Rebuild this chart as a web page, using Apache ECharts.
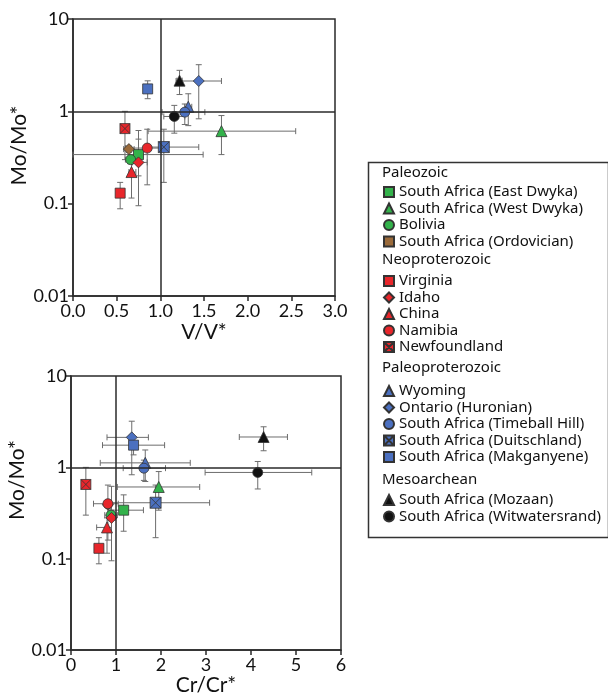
<!DOCTYPE html>
<html>
<head>
<meta charset="utf-8">
<script src="https://cdn.jsdelivr.net/npm/echarts@6/dist/echarts.min.js"></script>
<style>
html,body{margin:0;padding:0;background:#fff;}
#chart{width:608px;height:697px;}
</style>
</head>
<body>
<div id="chart"></div>
<script>
// ---------- data ----------
const categories = [
  'South Africa (East Dwyka)', 'South Africa (West Dwyka)', 'Bolivia', 'South Africa (Ordovician)',
  'Virginia', 'Idaho', 'China', 'Namibia', 'Newfoundland',
  'Wyoming', 'Ontario (Huronian)', 'South Africa (Timeball Hill)', 'South Africa (Duitschland)', 'South Africa (Makganyene)',
  'South Africa (Mozaan)', 'South Africa (Witwatersrand)'
];
const groupTitles = ['Paleozoic', 'Neoproterozoic', 'Paleoproterozoic', 'Mesoarchean'];
const groupMembers = [[0,1,2,3],[4,5,6,7,8],[9,10,11,12,13],[14,15]];

// Mo/Mo* (shared by both panels)
const moVal = [0.34, 0.61, 0.30, 0.39, 0.13, 0.28, 0.22, 0.40, 0.65, 1.12, 2.13, 0.98, 0.41, 1.75, 2.15, 0.88];
const moLo  = [0.20, 0.34, 0.27, 0.36, 0.088, 0.095, 0.115, 0.16, 0.30, 0.70, 0.83, 0.72, 0.17, 1.37, 1.52, 0.58];
const moHi  = [0.50, 0.90, 0.34, 0.42, 0.17, 0.62, 0.28, 0.64, 1.00, 1.55, 3.20, 1.20, 0.64, 2.14, 2.78, 1.16];

// V/V* (upper panel)
const vVal = [0.75, 1.70, 0.66, 0.64, 0.54, 0.75, 0.67, 0.85, 0.595, 1.32, 1.44, 1.28, 1.04, 0.855, 1.22, 1.16];
const vLo  = [0.00, 0.86, 0.60, 0.58, 0.50, 0.68, 0.64, 0.60, 0.57, 1.28, 1.18, 1.02, 0.88, 0.81, 1.19, 1.04];
const vHi  = [1.49, 2.55, 0.72, 0.70, 0.58, 0.85, 0.72, 1.00, 0.62, 1.36, 1.70, 1.51, 1.44, 0.90, 1.25, 1.28];

// Cr/Cr* (lower panel)
const crVal = [1.17, 1.95, 0.89, 0.82, 0.62, 0.90, 0.80, 0.82, 0.33, 1.65, 1.35, 1.62, 1.88, 1.39, 4.28, 4.15];
const crLo  = [0.87, 1.03, 0.75, 0.75, 0.55, 0.82, 0.57, 0.50, 0.30, 0.65, 0.80, 1.16, 0.79, 0.70, 3.74, 2.98];
const crHi  = [1.61, 2.86, 1.03, 0.90, 0.70, 0.98, 0.90, 1.05, 0.36, 2.65, 1.72, 2.10, 3.08, 2.08, 4.81, 5.35];

const xTickLabelsTop = ['0.0', '0.5', '1.0', '1.5', '2.0', '2.5', '3.0'];
const xTickLabelsBottom = ['0', '1', '2', '3', '4', '5', '6'];
const yTickLabels = ['0.01', '0.1', '1', '10'];

// ---------- styles ----------
const GREEN = '#33b24b', RED = '#e8262b', BROWN = '#9a6a3a', BLUE = '#4b70c0', BLACK = '#111';
const XSQ = 'path://M0,0L10,0L10,10L0,10Z M0,0L10,10 M10,0L0,10';
const colors = [GREEN, GREEN, GREEN, BROWN, RED, RED, RED, RED, RED, BLUE, BLUE, BLUE, BLUE, BLUE, BLACK, BLACK];
const symbols = ['rect','triangle','circle','diamond','rect','diamond','triangle','circle', XSQ,
                 'triangle','diamond','circle', XSQ,'rect','triangle','circle'];
const symSizes = [10, 11, 10, 11, 10, 11, 11, 10, 10, 11, 11, 10, 11, 10, 11, 10];
const legendIcons = ['rect','triangle','circle','rect','rect','diamond','triangle','circle', XSQ,
                     'triangle','diamond','circle', XSQ,'rect','triangle','circle'];
const FONT = 'Lato, "Noto Sans", sans-serif';
const LFONT = '"Noto Sans", sans-serif';
const AXC = '#2a2a2a';

function errItem(params, api) {
  const x = api.value(0), y = api.value(1);
  const c = api.coord([x, y]);
  const pl = api.coord([api.value(2), y]);
  const ph = api.coord([api.value(3), y]);
  const pb = api.coord([x, api.value(4)]);
  const pt = api.coord([x, api.value(5)]);
  const cap = 3;
  const st = { stroke: '#6d6d6d', lineWidth: 1 };
  return { type: 'group', children: [
    { type: 'line', shape: { x1: pl[0], y1: c[1], x2: ph[0], y2: c[1] }, style: st },
    { type: 'line', shape: { x1: pl[0], y1: c[1] - cap, x2: pl[0], y2: c[1] + cap }, style: st },
    { type: 'line', shape: { x1: ph[0], y1: c[1] - cap, x2: ph[0], y2: c[1] + cap }, style: st },
    { type: 'line', shape: { x1: c[0], y1: pb[1], x2: c[0], y2: pt[1] }, style: st },
    { type: 'line', shape: { x1: c[0] - cap, y1: pb[1], x2: c[0] + cap, y2: pb[1] }, style: st },
    { type: 'line', shape: { x1: c[0] - cap, y1: pt[1], x2: c[0] + cap, y2: pt[1] }, style: st }
  ]};
}

const series = [];
[[vVal, vLo, vHi], [crVal, crLo, crHi]].forEach(([xs, xl, xh], g) => {
  series.push({
    type: 'scatter', xAxisIndex: g, yAxisIndex: g, data: [], z: 1, silent: true,
    markLine: { silent: true, symbol: 'none', animation: false, label: { show: false },
      lineStyle: { color: AXC, width: 1.5, type: 'solid' },
      data: [{ xAxis: 1 }, { yAxis: 1 }] }
  });
  series.push({
    type: 'custom', xAxisIndex: g, yAxisIndex: g, z: 2, silent: true,
    renderItem: errItem, encode: { x: 0, y: 1 },
    data: categories.map((_, i) => [xs[i], moVal[i], xl[i], xh[i], moLo[i], moHi[i]])
  });
  categories.forEach((name, i) => {
    series.push({
      name, type: 'scatter', xAxisIndex: g, yAxisIndex: g, z: 3,
      symbol: symbols[i], symbolSize: symSizes[i],
      itemStyle: { color: colors[i], borderColor: '#333', borderWidth: 0.8, opacity: 1 },
      data: [[xs[i], moVal[i]]]
    });
  });
});

function xAxis(g, max, interval, labels, name, gap) {
  return {
    type: 'value', gridIndex: g, min: 0, max, interval,
    name, nameLocation: 'middle', nameGap: gap,
    nameTextStyle: { fontFamily: FONT, fontSize: 21, color: '#111' },
    axisLine: { show: true, lineStyle: { color: AXC, width: 1.5 } },
    axisTick: { show: true, length: 5, lineStyle: { color: AXC, width: 1.5 } },
    axisLabel: { fontFamily: FONT, fontSize: 18, color: '#111', margin: 6,
      formatter: (v, idx) => labels[idx] },
    splitLine: { show: false }
  };
}
function yAxis(g, gap, shift) {
  return {
    type: 'log', logBase: 10, gridIndex: g, min: 0.01, max: 10,
    name: 'Mo/Mo*', nameLocation: 'middle', nameGap: gap, nameRotate: 90,
    nameTextStyle: { fontFamily: FONT, fontSize: 21, color: '#111', padding: [0, 0, 0, shift] },
    axisLine: { show: true, lineStyle: { color: AXC, width: 1.5 } },
    axisTick: { show: true, length: 5, lineStyle: { color: AXC, width: 1.5 } },
    minorTick: { show: false },
    axisLabel: { fontFamily: FONT, fontSize: 18, color: '#111', margin: 4,
      formatter: v => yTickLabels[Math.round(Math.log10(v)) + 2] },
    splitLine: { show: false }
  };
}

const legendTops = [184.5, 273.5, 383.5, 492.5];
const legends = groupMembers.map((members, k) => ({
  orient: 'vertical', left: 383, top: legendTops[k], padding: 0,
  itemWidth: 10, itemHeight: 10, itemGap: 1.5, selectedMode: false,
  textStyle: { fontFamily: LFONT, fontSize: 15, color: '#111' },
  data: members.map(i => ({ name: categories[i], icon: legendIcons[i] }))
}));

const headerTops = [175.5, 262.5, 370.5, 482.5];
const graphic = [
  { type: 'rect', left: 366, top: 160, shape: { width: 240, height: 375 },
    style: { fill: 'none', stroke: '#333', lineWidth: 1.5 } }
].concat(groupTitles.map((t, k) => ({
  type: 'text', left: 382, top: headerTops[k] - 10,
  style: { text: t, font: '15px ' + LFONT, fill: '#111' }
})));

const option = {
  animation: false,
  backgroundColor: '#fff',
  grid: [
    { left: 73, top: 19, width: 262, height: 277, show: true, borderColor: AXC, borderWidth: 1.5 },
    { left: 71, top: 376, width: 270, height: 277, show: true, borderColor: AXC, borderWidth: 1.5 }
  ],
  xAxis: [
    xAxis(0, 3, 0.5, xTickLabelsTop, 'V/V*', 26),
    xAxis(1, 6, 1, xTickLabelsBottom, 'Cr/Cr*', 24)
  ],
  yAxis: [yAxis(0, 34, 24), yAxis(1, 38, 66)],
  legend: legends,
  graphic,
  series
};

const chart = echarts.init(document.getElementById('chart'), null, { renderer: 'canvas' });
chart.setOption(option);
</script>
</body>
</html>
